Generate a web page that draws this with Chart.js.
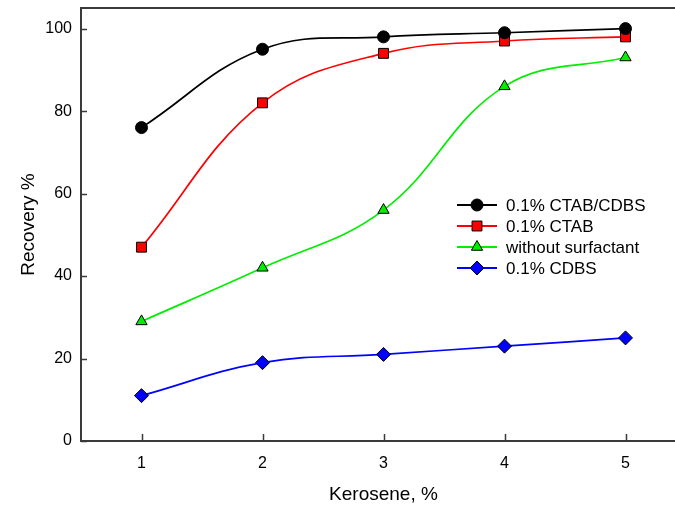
<!DOCTYPE html>
<html>
<head>
<meta charset="utf-8">
<script src="https://cdn.jsdelivr.net/npm/chart.js@4/dist/chart.umd.min.js"></script>
<style>
  html, body { margin: 0; padding: 0; background: #fff; overflow: hidden; }
  canvas { display: block; }
</style>
</head>
<body>
<canvas id="recovery" width="700" height="506"></canvas>
<script>
const kerosene = ['1', '2', '3', '4', '5']
const ctabCdbs = [76, 95, 98, 99, 100]
const ctab = [47, 82, 94, 97, 98]
const noSurfactant = [29, 42, 56, 86, 93]
const cdbs = [11, 19, 21, 23, 25]
const yTicks = [0, 20, 40, 60, 80, 100]

const axisColor = '#3a3a3a'
const font = "'Liberation Sans', Arial, sans-serif"

function series (label, data, color, pointStyle, radius) {
  return {
    label: label,
    data: data,
    borderColor: color,
    backgroundColor: color,
    borderWidth: 1.7,
    tension: 0.4,
    pointStyle: pointStyle,
    pointRadius: radius,
    pointBackgroundColor: color,
    pointBorderColor: '#000',
    pointBorderWidth: 1
  }
}

// inside tick marks, top frame line and the legend box
const decorations = {
  id: 'decorations',
  afterDraw (chart) {
    const ctx = chart.ctx
    const area = chart.chartArea
    const x = chart.scales.x
    const y = chart.scales.y
    ctx.save()
    ctx.strokeStyle = axisColor
    ctx.lineWidth = 2
    ctx.beginPath()
    ctx.moveTo(area.left - 1, area.top)
    ctx.lineTo(area.right + 20, area.top)
    ctx.stroke()
    ctx.lineWidth = 1.5
    ctx.beginPath()
    yTicks.forEach(v => {
      const py = Math.round(y.getPixelForValue(v)) + 0.5
      ctx.moveTo(area.left, py)
      ctx.lineTo(area.left + 6, py)
    })
    kerosene.forEach((k, i) => {
      const px = Math.round(x.getPixelForValue(i)) + 0.5
      ctx.moveTo(px, area.bottom)
      ctx.lineTo(px, area.bottom - 7)
    })
    ctx.stroke()

    // legend
    const left = 457
    let top = 205
    ctx.font = '17px ' + font
    ctx.textBaseline = 'middle'
    chart.data.datasets.forEach(ds => {
      ctx.strokeStyle = ds.borderColor
      ctx.lineWidth = 2
      ctx.beginPath()
      ctx.moveTo(left, top)
      ctx.lineTo(left + 40, top)
      ctx.stroke()
      ctx.fillStyle = ds.pointBackgroundColor
      ctx.strokeStyle = ds.pointBorderColor
      ctx.lineWidth = ds.pointBorderWidth
      Chart.helpers.drawPoint(ctx, {
        pointStyle: ds.pointStyle,
        radius: ds.pointRadius,
        rotation: 0,
        borderWidth: ds.pointBorderWidth
      }, left + 20, top)
      ctx.fillStyle = '#000'
      ctx.fillText(ds.label, left + 49, top + 1)
      top += 21
    })
    ctx.restore()
  }
}

new Chart(document.getElementById('recovery'), {
  type: 'line',
  data: {
    labels: kerosene,
    datasets: [
      series('0.1% CTAB/CDBS', ctabCdbs, '#000000', 'circle', 6),
      series('0.1% CTAB', ctab, '#ff0000', 'rect', 7),
      series('without surfactant', noSurfactant, '#00ee00', 'triangle', 6.5),
      series('0.1% CDBS', cdbs, '#0000ff', 'rectRot', 7)
    ]
  },
  options: {
    responsive: false,
    animation: false,
    layout: { padding: { top: 7, right: 14, left: 0, bottom: 0 } },
    plugins: { legend: { display: false }, tooltip: { enabled: false } },
    scales: {
      x: {
        type: 'category',
        offset: true,
        afterFit (scale) { scale.height = 65 },
        grid: { display: false, drawTicks: false },
        border: { display: true, color: axisColor, width: 2 },
        ticks: { color: '#000', padding: 13, font: { family: font, size: 16 } },
        title: {
          display: true,
          text: 'Kerosene, %',
          color: '#000',
          padding: { top: 0, bottom: 0 },
          font: { family: font, size: 19 }
        }
      },
      y: {
        min: 0,
        max: 105,
        afterFit (scale) {
          scale.width = 81
          scale.paddingTop = 0
          scale.paddingBottom = 0
        },
        afterBuildTicks (scale) { scale.ticks = yTicks.map(v => ({ value: v })) },
        grid: { display: false, drawTicks: false },
        border: { display: true, color: axisColor, width: 2 },
        ticks: { color: '#000', padding: 9, font: { family: font, size: 16 } },
        title: {
          display: true,
          text: 'Recovery %',
          color: '#000',
          padding: { top: 17, bottom: 0 },
          font: { family: font, size: 19 }
        }
      }
    }
  },
  plugins: [decorations]
})
</script>
</body>
</html>
